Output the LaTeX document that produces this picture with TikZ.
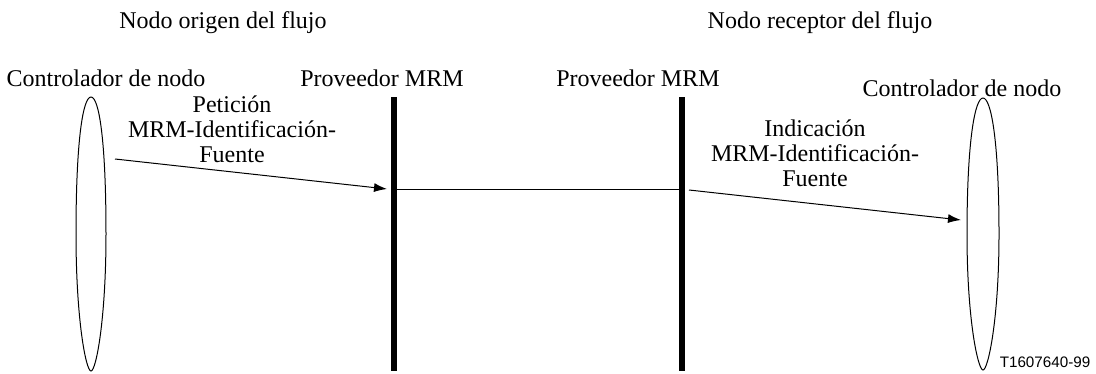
\documentclass[tikz,border=0pt]{standalone}
\usepackage{fontspec}
\setmainfont{Liberation Serif}
\newfontfamily\tagfont{Liberation Sans}
\usetikzlibrary{arrows.meta}
\tikzset{>={Latex[length=6.5pt,width=4.5pt]}}
\tikzset{
  lbl/.style={align=center, inner sep=0pt, font=\fontsize{12}{12.4}\selectfont},
  lifeline/.style={fill=black, draw=none, inner sep=0pt, minimum width=2.6pt, minimum height=137pt},
  msg/.style={->, line width=0.5pt},
}

\begin{document}
\begin{tikzpicture}[x=0.5pt, y=-0.5pt]
  \useasboundingbox (0,0) rectangle (1096,374);
  % titles
  \node[lbl] (origen) at (223,23) {Nodo origen del flujo};
  \node[lbl] (receptor) at (820,23) {Nodo receptor del flujo};
  \node[lbl] (ctrlA) at (106,78) {Controlador de nodo};
  \node[lbl] (provA) at (382,78) {Proveedor MRM};
  \node[lbl] (provB) at (638,78) {Proveedor MRM};
  \node[lbl] (ctrlB) at (962,88) {Controlador de nodo};
  % node controllers
  \draw[line width=0.5pt] (91,97) .. controls (83,97) and (76,140) .. (76,234)
                                  .. controls (76,320) and (86,371) .. (91,371)
                                  .. controls (96,371) and (106,320) .. (106,234)
                                  .. controls (106,140) and (99,97) .. (91,97);
  \draw[line width=0.5pt] (983,98) .. controls (975,98) and (967,140) .. (967,234)
                                   .. controls (967,320) and (978,370) .. (983,370)
                                   .. controls (988,370) and (999,320) .. (999,234)
                                   .. controls (999,140) and (991,98) .. (983,98);
  % MRM providers
  \node[lifeline] (barA) at (394,234) {};
  \node[lifeline] (barB) at (682,234) {};
  \draw[line width=0.5pt] (barA.east |- 0,189) coordinate (linkA) -- (barB.west |- linkA);
  % primitives
  \coordinate (reqS) at (115,159);
  \coordinate (reqE) at (387,189);
  \draw[msg] (reqS) -- (reqE);
  \node[lbl] (pet) at (232,129) {Petición\\MRM-Identificación-\\Fuente};
  \coordinate (indS) at (689,190);
  \coordinate (indE) at (961,220);
  \draw[msg] (indS) -- (indE);
  \node[lbl] (ind) at (815,153) {Indicación\\MRM-Identificación-\\Fuente};
  \node[font=\tagfont\fontsize{7.6}{9}\selectfont, inner sep=0pt] (tag) at (1045,362) {T1607640-99};
\end{tikzpicture}
\end{document}
